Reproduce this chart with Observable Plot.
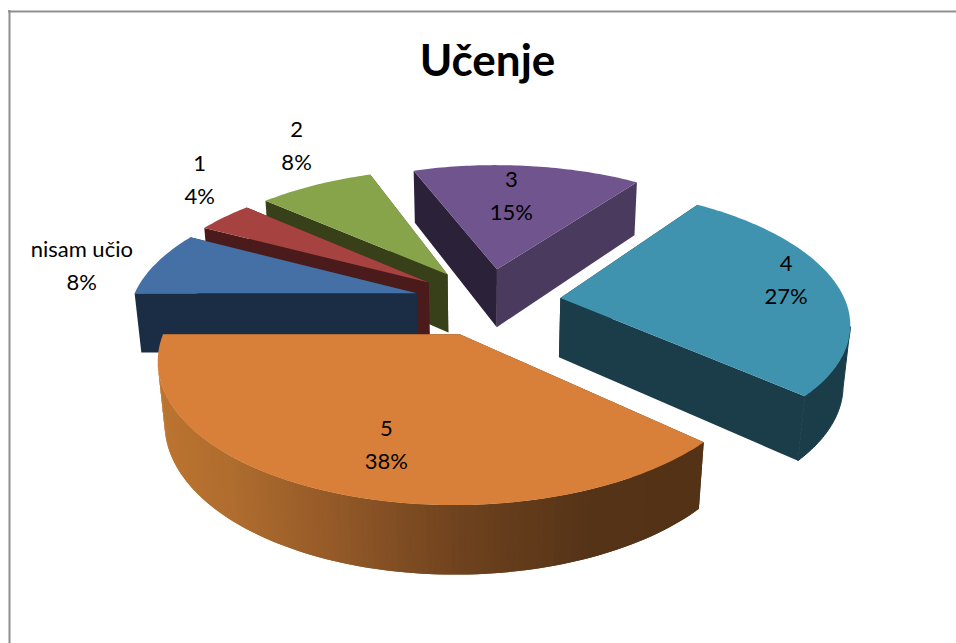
<!DOCTYPE html>
<html>
<head>
<meta charset="utf-8">
<script src="https://cdn.jsdelivr.net/npm/d3@7"></script>
<script src="https://cdn.jsdelivr.net/npm/@observablehq/plot@0.6"></script>
<style>html,body{margin:0;padding:0;background:#fff}svg{display:block}</style>
</head>
<body>
<div id="chart"></div>
<script>
const title = "Učenje";
const categories = ["nisam učio", "1", "2", "3", "4", "5"];
const shares = [7.8, 3.8, 7.8, 15.45, 26.9, 38.2];
const topColors = ["#4570A5", "#A64340", "#87A44B", "#6F548D", "#3F93AE", "#D8803A"];
const startWallColors = ["#1B2D44", "#4A1B1A", "#374019", "#2B2139", "#1B3D4A", "#54321A"];
const endWallColors = ["#1B2D44", "#4A1B1A", "#374019", "#4A3A5E", "#1B3D4A", "#54321A"];
const paintOrder = [3, 4, 2, 1, 0, 5];
const labelAngleShift = [-3.95, 9.1, 5.45, -2.4, -3.4, -4.55];
const labelReach = [1.258, 1.361, 1.425, 0.670, 0.830, 0.724];

// Perspective camera for the tilted pie (unit radius in the plane)
const firstAngle = 270, explode = 0.258;
const cam = {cx: 487, horizon: -500, K: 6.12, Q: 4902, focal: 1745, sink: 0.12, drop: 468};
const rad = d => d * Math.PI / 180;
const total = d3.sum(shares);
function project(X, Y, bottom) {
  const w = cam.K - Y + (bottom ? cam.sink : 0);
  return {
    x: cam.cx + cam.focal * X / w,
    y: cam.horizon + (cam.Q + (bottom ? cam.drop : 0)) / w
  };
}

let acc = firstAngle;
const slices = categories.map((name, i) => {
  const a0 = acc, a1 = acc + shares[i] / total * 360;
  acc = a1;
  const mid = (a0 + a1) / 2;
  return {i, name, a0, a1, mid, ex: explode * Math.sin(rad(mid)), ey: -explode * Math.cos(rad(mid))};
});
const rim = (s, a, bottom) => project(s.ex + Math.sin(rad(a)), s.ey - Math.cos(rad(a)), bottom);
const hub = (s, bottom) => project(s.ex, s.ey, bottom);
// Is the curved side at clock angle a turned towards the camera?
const facing = (s, a) => {
  const nx = Math.sin(rad(a)), ny = -Math.cos(rad(a));
  return (0 - s.ex - nx) * nx + (cam.K - s.ey - ny) * ny > 0;
};

// side shading of the big slice runs with screen position
const sideShade = d3.scaleLinear()
  .domain([160, 240, 330, 470, 600, 710])
  .range(["#BC7430", "#AE6C2E", "#975B29", "#6E421E", "#553317", "#543216"]);

const polygons = [];
let pid = 0;
function addPoly(points, shade, edge) {
  pid++;
  points.forEach((p, k) => polygons.push({id: pid, k, px: p.x, py: p.y, shade, edge}));
}
for (const idx of paintOrder) {
  const s = slices[idx];
  addPoly([hub(s), rim(s, s.a0), rim(s, s.a0, true), hub(s, true)], startWallColors[idx], 0);
  addPoly([hub(s), rim(s, s.a1), rim(s, s.a1, true), hub(s, true)], endWallColors[idx], 0);
  const steps = d3.range(s.a0, s.a1, 1).concat(s.a1).filter(a => facing(s, a));
  if (steps.length > 1) {
    if (idx === 5) {
      // banded shading: each band overlaps the next so no seams appear
      for (let j = steps.length - 2; j >= 0; j--) {
        const a = steps[j], b = steps[Math.min(j + 2, steps.length - 1)];
        const t0 = rim(s, a), t1 = rim(s, b);
        addPoly([t0, t1, rim(s, b, true), rim(s, a, true)], sideShade(t0.x), 0);
      }
    } else {
      addPoly([...steps.map(a => rim(s, a)), ...steps.slice().reverse().map(a => rim(s, a, true))], startWallColors[idx], 1);
    }
  }
  const m = Math.ceil(s.a1 - s.a0);
  addPoly([hub(s), ...d3.range(m + 1).map(j => rim(s, s.a0 + (s.a1 - s.a0) * j / m))], topColors[idx], 0);
}

const labels = slices.map((s, i) => {
  const a = s.mid + labelAngleShift[i], r = labelReach[i];
  const p = project(s.ex + r * Math.sin(rad(a)), s.ey - r * Math.cos(rad(a)));
  return {lx: p.x, ly: p.y, text: `${categories[i]}\n${Math.round(shares[i] / total * 100)}%`};
});

const chart = Plot.plot({
  width: 956,
  height: 643,
  margin: 0,
  x: {domain: [0, 956], range: [0, 956], axis: null},
  y: {domain: [0, 643], range: [0, 643], axis: null},
  color: {type: "identity"},
  style: {background: "#fff"},
  marks: [
    Plot.ruleX([9], {y1: 10, y2: 643, stroke: "#8f8f8f", strokeWidth: 2}),
    Plot.ruleY([11], {x1: 8, x2: 956, stroke: "#8f8f8f", strokeWidth: 2}),
    Plot.line(polygons, {
      x: "px", y: "py", z: "id", fill: "shade", stroke: "shade", strokeWidth: "edge",
      curve: "linear-closed"
    }),
    Plot.text(labels, {
      x: "lx", y: "ly", text: "text", fill: "#000", dy: -3.5,
      fontFamily: "Lato, Carlito, sans-serif", fontSize: 22, lineHeight: 1.5,
      textAnchor: "middle", lineAnchor: "middle"
    }),
    Plot.text([title], {
      frameAnchor: "top", dx: 9, dy: 44, text: d => d, fill: "#000",
      fontFamily: "Lato, Carlito, sans-serif", fontWeight: 700, fontSize: 44, lineAnchor: "top"
    })
  ]
});
document.getElementById("chart").append(chart);
</script>
</body>
</html>
